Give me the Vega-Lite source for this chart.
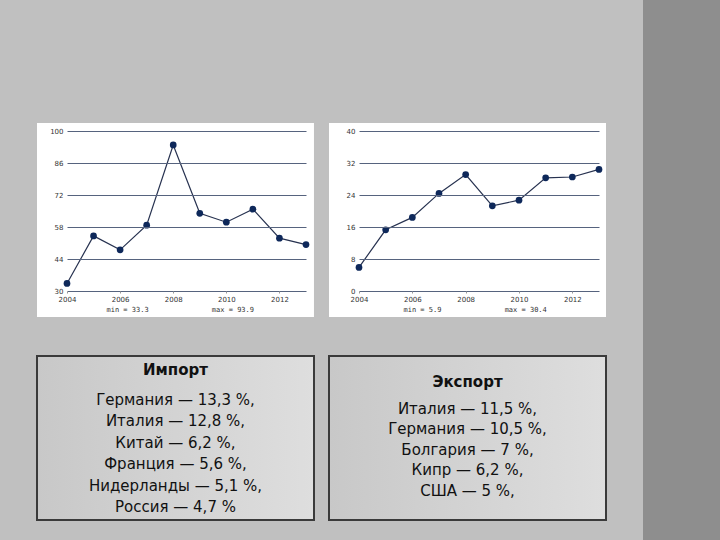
{
  "$schema": "https://vega.github.io/schema/vega-lite/v6.json",
  "background": "#c0c0c0",
  "padding": {"left": 36, "top": 0, "right": 0, "bottom": 0},
  "config": {"view": {"stroke": null}, "font": "DejaVu Sans"},
  "spacing": 36,
  "hconcat": [
    {
      "spacing": 38,
      "vconcat": [
        {"width": 1, "height": 84, "data": {"values": []}, "mark": "rect", "encoding": {}},
        {
          "spacing": 15,
          "hconcat": [
            {
              "width": 239, "height": 160,
              "data": {"values": [
                {"year": 2004, "value": 33.3}, {"year": 2005, "value": 54.1}, {"year": 2006, "value": 48.0},
                {"year": 2007, "value": 58.8}, {"year": 2008, "value": 93.9}, {"year": 2009, "value": 64.0},
                {"year": 2010, "value": 60.1}, {"year": 2011, "value": 65.8}, {"year": 2012, "value": 53.1},
                {"year": 2013, "value": 50.3}
              ]},
              "layer": [
                {
                  "data": {"values": [{}]},
                  "mark": {"type": "rect", "fill": "#ffffff"},
                  "encoding": {
                    "x": {"datum": 2002.87, "type": "quantitative", "title": null},
                    "x2": {"datum": 2013.3},
                    "y": {"datum": 103.5, "type": "quantitative", "title": null},
                    "y2": {"datum": 18.625}
                  }
                },
                {
                  "mark": {"type": "line", "color": "#273250", "strokeWidth": 1.2},
                  "encoding": {
                    "x": {"field": "year", "type": "quantitative", "scale": {"domain": [2004, 2013], "nice": false, "zero": false},
                      "axis": {"values": [2004, 2006, 2008, 2010, 2012], "tickCount": 20, "format": "d", "title": "min = 33.3\u00a0\u00a0\u00a0\u00a0\u00a0\u00a0\u00a0\u00a0\u00a0\u00a0\u00a0\u00a0\u00a0\u00a0\u00a0max = 93.9",
                        "titleAnchor": "start", "titleX": 39,
                        "grid": false, "domain": false, "ticks": true, "tickSize": 2, "tickColor": "#999999", "labelFontSize": 7, "labelColor": "#333333", "labelPadding": 2, "labelFlush": false, "labelOverlap": false,
                        "titleFont": "DejaVu Sans Mono", "titleFontSize": 7, "titleFontWeight": "normal", "titleColor": "#333333", "titlePadding": 3, "zindex": 1}},
                    "y": {"field": "value", "type": "quantitative", "scale": {"domain": [30, 100], "nice": false, "zero": false},
                      "axis": {"values": [30, 44, 58, 72, 86, 100], "tickCount": 20, "title": null, "grid": true, "gridColor": "#56637e", "domain": false, "ticks": false, "labelFontSize": 7, "labelColor": "#333333", "labelPadding": 4, "labelFlush": false, "labelOverlap": false, "zindex": 1}}
                  }
                },
                {
                  "mark": {"type": "circle", "color": "#0e285a", "size": 45, "opacity": 1},
                  "encoding": {
                    "x": {"field": "year", "type": "quantitative"},
                    "y": {"field": "value", "type": "quantitative"}
                  }
                }
              ]
            },
            {
              "width": 240, "height": 160,
              "data": {"values": [
                {"year": 2004, "value": 5.9}, {"year": 2005, "value": 15.3}, {"year": 2006, "value": 18.4},
                {"year": 2007, "value": 24.4}, {"year": 2008, "value": 29.1}, {"year": 2009, "value": 21.3},
                {"year": 2010, "value": 22.7}, {"year": 2011, "value": 28.3}, {"year": 2012, "value": 28.5},
                {"year": 2013, "value": 30.4}
              ]},
              "layer": [
                {
                  "data": {"values": [{}]},
                  "mark": {"type": "rect", "fill": "#ffffff"},
                  "encoding": {
                    "x": {"datum": 2002.875, "type": "quantitative", "title": null},
                    "x2": {"datum": 2013.2625},
                    "y": {"datum": 42, "type": "quantitative", "title": null},
                    "y2": {"datum": -6.5}
                  }
                },
                {
                  "mark": {"type": "line", "color": "#273250", "strokeWidth": 1.2},
                  "encoding": {
                    "x": {"field": "year", "type": "quantitative", "scale": {"domain": [2004, 2013], "nice": false, "zero": false},
                      "axis": {"values": [2004, 2006, 2008, 2010, 2012], "tickCount": 20, "format": "d", "title": "min = 5.9\u00a0\u00a0\u00a0\u00a0\u00a0\u00a0\u00a0\u00a0\u00a0\u00a0\u00a0\u00a0\u00a0\u00a0\u00a0max = 30.4",
                        "titleAnchor": "start", "titleX": 44,
                        "grid": false, "domain": false, "ticks": true, "tickSize": 2, "tickColor": "#999999", "labelFontSize": 7, "labelColor": "#333333", "labelPadding": 2, "labelFlush": false, "labelOverlap": false,
                        "titleFont": "DejaVu Sans Mono", "titleFontSize": 7, "titleFontWeight": "normal", "titleColor": "#333333", "titlePadding": 3, "zindex": 1}},
                    "y": {"field": "value", "type": "quantitative", "scale": {"domain": [0, 40], "nice": false, "zero": false},
                      "axis": {"values": [0, 8, 16, 24, 32, 40], "tickCount": 20, "title": null, "grid": true, "gridColor": "#56637e", "domain": false, "ticks": false, "labelFontSize": 7, "labelColor": "#333333", "labelPadding": 4, "labelFlush": false, "labelOverlap": false, "zindex": 1}}
                  }
                },
                {
                  "mark": {"type": "circle", "color": "#0e285a", "size": 45, "opacity": 1},
                  "encoding": {
                    "x": {"field": "year", "type": "quantitative"},
                    "y": {"field": "value", "type": "quantitative"}
                  }
                }
              ]
            }
          ]
        },
        {
          "spacing": 12,
          "hconcat": [
            {
              "width": 247, "height": 164,
              "title": {"text": "Импорт", "fontSize": 15, "fontWeight": "bold", "font": "DejaVu Sans", "color": "#111111", "offset": -23, "anchor": "middle", "frame": "bounds"},
              "data": {"values": [
                {"rank": 1, "line": "Германия — 13,3 %,"}, {"rank": 2, "line": "Италия — 12,8 %,"}, {"rank": 3, "line": "Китай — 6,2 %,"},
                {"rank": 4, "line": "Франция — 5,6 %,"}, {"rank": 5, "line": "Нидерланды — 5,1 %,"}, {"rank": 6, "line": "Россия — 4,7 %"}
              ]},
              "layer": [
                {
                  "data": {"values": [{}]},
                  "mark": {"type": "rect", "stroke": "#3a3a3a", "strokeWidth": 2,
                    "fill": {"gradient": "linear", "x1": 0, "y1": 0, "x2": 1, "y2": 0, "stops": [{"offset": 0, "color": "#c8c8c8"}, {"offset": 1, "color": "#dedede"}]}},
                  "encoding": {
                    "x": {"datum": -0.121457, "type": "quantitative", "scale": {"domain": [0, 1], "nice": false, "zero": false}, "axis": null},
                    "x2": {"datum": 1},
                    "y": {"datum": -1.056, "type": "quantitative", "scale": {"domain": [-1.056, 6.608], "reverse": true, "nice": false, "zero": false}, "axis": null},
                    "y2": {"datum": 6.608}
                  }
                },
                {
                  "mark": {"type": "text", "fontSize": 15, "font": "DejaVu Sans", "color": "#111111", "baseline": "middle", "align": "center"},
                  "encoding": {
                    "x": {"datum": 0.439271, "type": "quantitative", "axis": null},
                    "y": {"field": "rank", "type": "quantitative", "axis": null},
                    "text": {"field": "line"}
                  }
                }
              ]
            },
            {
              "width": 247, "height": 164,
              "title": {"text": "Экспорт", "fontSize": 15, "fontWeight": "bold", "font": "DejaVu Sans", "color": "#111111", "offset": -35, "anchor": "middle", "frame": "bounds"},
              "data": {"values": [
                {"rank": 1, "line": "Италия — 11,5 %,"}, {"rank": 2, "line": "Германия — 10,5 %,"}, {"rank": 3, "line": "Болгария — 7 %,"},
                {"rank": 4, "line": "Кипр — 6,2 %,"}, {"rank": 5, "line": "США — 5 %,"}
              ]},
              "layer": [
                {
                  "data": {"values": [{}]},
                  "mark": {"type": "rect", "stroke": "#3a3a3a", "strokeWidth": 2,
                    "fill": {"gradient": "linear", "x1": 0, "y1": 0, "x2": 1, "y2": 0, "stops": [{"offset": 0, "color": "#c8c8c8"}, {"offset": 1, "color": "#dedede"}]}},
                  "encoding": {
                    "x": {"datum": -0.121457, "type": "quantitative", "scale": {"domain": [0, 1], "nice": false, "zero": false}, "axis": null},
                    "x2": {"datum": 1},
                    "y": {"datum": -1.558, "type": "quantitative", "scale": {"domain": [-1.558, 6.403], "reverse": true, "nice": false, "zero": false}, "axis": null},
                    "y2": {"datum": 6.403}
                  }
                },
                {
                  "mark": {"type": "text", "fontSize": 15, "font": "DejaVu Sans", "color": "#111111", "baseline": "middle", "align": "center"},
                  "encoding": {
                    "x": {"datum": 0.439271, "type": "quantitative", "axis": null},
                    "y": {"field": "rank", "type": "quantitative", "axis": null},
                    "text": {"field": "line"}
                  }
                }
              ]
            }
          ]
        }
      ]
    },
    {
      "width": 77, "height": 540,
      "view": {"fill": "#8e8e8e", "stroke": null},
      "data": {"values": []},
      "mark": "rect",
      "encoding": {}
    }
  ]
}
